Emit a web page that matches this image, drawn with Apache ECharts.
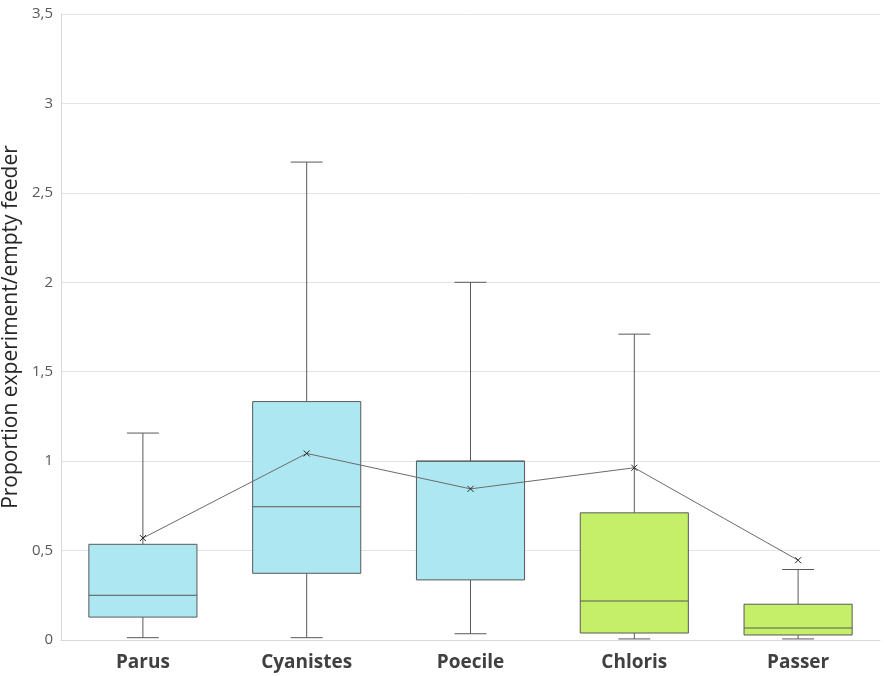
<!DOCTYPE html>
<html>
<head>
<meta charset="utf-8">
<script src="https://cdn.jsdelivr.net/npm/echarts@6/dist/echarts.min.js"></script>
<style>
html,body{margin:0;padding:0;background:#fff;}
#chart{width:886px;height:676px;}
</style>
</head>
<body>
<div id="chart"></div>
<script>
var categories = ['Parus', 'Cyanistes', 'Poecile', 'Chloris', 'Passer'];
var whiskerMin = [0.013, 0.013, 0.035, 0.006, 0.006];
var q1 = [0.128, 0.373, 0.336, 0.039, 0.028];
var median = [0.25, 0.745, 1.0, 0.218, 0.067];
var q3 = [0.535, 1.333, 1.0, 0.711, 0.2];
var whiskerMax = [1.157, 2.672, 2.0, 1.71, 0.394];
var means = [0.57, 1.043, 0.845, 0.963, 0.446];
var boxColors = ['#ade8f2', '#ade8f2', '#ade8f2', '#c5ef68', '#c5ef68'];
var yTicks = { min: 0, max: 3.5, interval: 0.5 };

var boxData = categories.map(function (c, i) {
  return [i, whiskerMin[i], q1[i], median[i], q3[i], whiskerMax[i]];
});

var chart = echarts.init(document.getElementById('chart'));

function renderBox(params, api) {
  var idx = api.value(0);
  var pMin = api.coord([idx, api.value(1)]);
  var pQ1 = api.coord([idx, api.value(2)]);
  var pMed = api.coord([idx, api.value(3)]);
  var pQ3 = api.coord([idx, api.value(4)]);
  var pMax = api.coord([idx, api.value(5)]);
  var band = api.size([1, 0])[0];
  var bw = band * 0.66;
  var cw = band * 0.195;
  var x = pMed[0];
  var stroke = { stroke: '#595959', lineWidth: 1 };
  var color = boxColors[idx];
  return {
    type: 'group',
    children: [
      { type: 'line', shape: { x1: x, y1: pMax[1], x2: x, y2: pQ3[1] }, style: stroke },
      { type: 'line', shape: { x1: x, y1: pQ1[1], x2: x, y2: pMin[1] }, style: stroke },
      { type: 'line', shape: { x1: x - cw / 2, y1: pMax[1], x2: x + cw / 2, y2: pMax[1] }, style: stroke },
      { type: 'line', shape: { x1: x - cw / 2, y1: pMin[1], x2: x + cw / 2, y2: pMin[1] }, style: stroke },
      { type: 'rect', shape: { x: x - bw / 2, y: pQ3[1], width: bw, height: pQ1[1] - pQ3[1] },
        style: { fill: color, stroke: '#595959', lineWidth: 1 } },
      { type: 'line', shape: { x1: x - bw / 2, y1: pMed[1], x2: x + bw / 2, y2: pMed[1] }, style: stroke }
    ]
  };
}

chart.setOption({
  animation: false,
  backgroundColor: '#ffffff',
  grid: { left: 61, right: 6, top: 14, bottom: 36, containLabel: false, outerBoundsMode: 'none' },
  xAxis: {
    type: 'category',
    data: categories,
    axisLine: { show: true, lineStyle: { color: '#d9d9d9' } },
    axisTick: { show: false },
    axisLabel: { color: '#404040', fontFamily: 'Open Sans', fontWeight: 'bold', fontSize: 19, margin: 13 }
  },
  yAxis: {
    type: 'value',
    min: yTicks.min,
    max: yTicks.max,
    interval: yTicks.interval,
    name: 'Proportion experiment/empty feeder',
    nameLocation: 'middle',
    nameGap: 32,
    nameTextStyle: { color: '#262626', fontFamily: 'Open Sans', fontSize: 21 },
    axisLine: { show: true, lineStyle: { color: '#d9d9d9' } },
    axisTick: { show: false },
    splitLine: { lineStyle: { color: '#e3e3e3' } },
    axisLabel: {
      color: '#595959', fontFamily: 'Open Sans', fontSize: 15, margin: 8,
      formatter: function (v) { return String(v).replace('.', ','); }
    }
  },
  series: [
    {
      type: 'custom',
      data: boxData,
      renderItem: renderBox,
      encode: { x: 0, y: [1, 2, 3, 4, 5] },
      z: 2
    },
    {
      type: 'line',
      data: means,
      z: 3,
      lineStyle: { color: '#6b6b6b', width: 1 },
      symbol: 'path://M0,0L10,10M10,0L0,10',
      symbolSize: 6,
      itemStyle: { color: 'none', borderColor: '#262626', borderWidth: 1 }
    }
  ]
});
</script>
</body>
</html>
